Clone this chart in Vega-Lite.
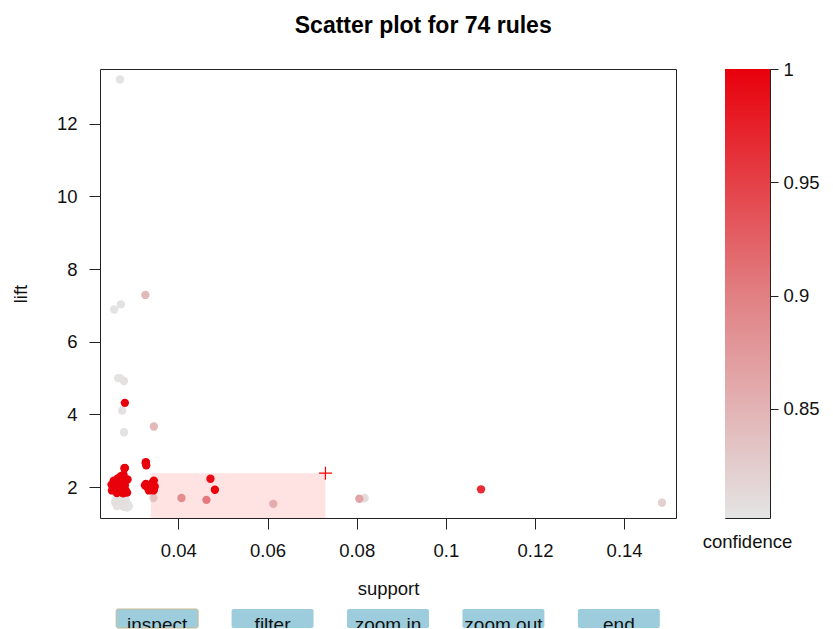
{
  "$schema": "https://vega.github.io/schema/vega-lite/v6.json",
  "padding": {"left": 10, "top": 14, "right": 5, "bottom": 0},
  "background": "white",
  "title": {"text": "Scatter plot for 74 rules", "fontSize": 23, "fontWeight": "bold", "font": "Liberation Sans", "color": "#000", "anchor": "middle", "offset": 22, "dx": 8},
  "config": {
    "font": "Liberation Sans",
    "view": {"stroke": "#222", "strokeWidth": 1},
    "axis": {"grid": false, "domain": false, "tickColor": "#222", "labelColor": "#111", "titleColor": "#111", "labelFontSize": 18.5, "titleFontSize": 18.5, "titleFontWeight": "normal", "labelFont": "Liberation Sans", "titleFont": "Liberation Sans", "labelFlush": false}
  },
  "resolve": {"scale": {"x": "independent", "y": "independent", "color": "independent"}},
  "spacing": 25,
  "hconcat": [
    {
      "spacing": 9,
      "resolve": {"scale": {"x": "independent", "y": "independent"}},
      "vconcat": [
        {
          "width": 576,
          "height": 449,
          "layer": [
            {
              "data": {"values": [
                {"support": 0.0269, "lift": 13.22, "confidence": 0.803},
                {"support": 0.0271, "lift": 7.03, "confidence": 0.805},
                {"support": 0.0256, "lift": 6.89, "confidence": 0.803},
                {"support": 0.0265, "lift": 5.00, "confidence": 0.804},
                {"support": 0.0270, "lift": 5.00, "confidence": 0.804},
                {"support": 0.0278, "lift": 4.92, "confidence": 0.806},
                {"support": 0.0274, "lift": 4.11, "confidence": 0.805},
                {"support": 0.0278, "lift": 3.51, "confidence": 0.803},
                {"support": 0.0818, "lift": 1.70, "confidence": 0.806},
                {"support": 0.0816, "lift": 1.69, "confidence": 0.81},
                {"support": 0.0259, "lift": 1.63, "confidence": 0.805},
                {"support": 0.0264, "lift": 1.56, "confidence": 0.803},
                {"support": 0.0270, "lift": 1.50, "confidence": 0.804},
                {"support": 0.0278, "lift": 1.46, "confidence": 0.806},
                {"support": 0.0285, "lift": 1.44, "confidence": 0.803},
                {"support": 0.0268, "lift": 1.62, "confidence": 0.805},
                {"support": 0.0276, "lift": 1.58, "confidence": 0.807},
                {"support": 0.0287, "lift": 1.52, "confidence": 0.804},
                {"support": 0.0282, "lift": 1.64, "confidence": 0.805},
                {"support": 0.0262, "lift": 1.48, "confidence": 0.804},
                {"support": 0.0273, "lift": 1.55, "confidence": 0.805},
                {"support": 0.0280, "lift": 1.52, "confidence": 0.803},
                {"support": 0.0258, "lift": 1.58, "confidence": 0.806},
                {"support": 0.0289, "lift": 1.47, "confidence": 0.804},
                {"support": 0.0326, "lift": 7.29, "confidence": 0.845},
                {"support": 0.0345, "lift": 3.67, "confidence": 0.845},
                {"support": 0.0344, "lift": 1.70, "confidence": 0.815},
                {"support": 0.0407, "lift": 1.70, "confidence": 0.87},
                {"support": 0.0463, "lift": 1.65, "confidence": 0.89},
                {"support": 0.0613, "lift": 1.54, "confidence": 0.835},
                {"support": 0.0806, "lift": 1.68, "confidence": 0.865},
                {"support": 0.1485, "lift": 1.57, "confidence": 0.82},
                {"support": 0.1079, "lift": 1.94, "confidence": 0.965},
                {"support": 0.0280, "lift": 4.32, "confidence": 1.0},
                {"support": 0.0280, "lift": 2.53, "confidence": 1.0},
                {"support": 0.0279, "lift": 2.52, "confidence": 0.99},
                {"support": 0.0327, "lift": 2.69, "confidence": 1.0},
                {"support": 0.0327, "lift": 2.66, "confidence": 1.0},
                {"support": 0.0328, "lift": 2.60, "confidence": 1.0},
                {"support": 0.0472, "lift": 2.23, "confidence": 0.99},
                {"support": 0.0482, "lift": 1.93, "confidence": 1.0},
                {"support": 0.0271, "lift": 2.30, "confidence": 1.0},
                {"support": 0.0259, "lift": 2.14, "confidence": 1.0},
                {"support": 0.0274, "lift": 2.14, "confidence": 1.0},
                {"support": 0.0256, "lift": 1.96, "confidence": 1.0},
                {"support": 0.0282, "lift": 1.91, "confidence": 1.0},
                {"support": 0.0267, "lift": 2.00, "confidence": 1.0},
                {"support": 0.0280, "lift": 2.05, "confidence": 1.0},
                {"support": 0.0250, "lift": 2.07, "confidence": 1.0},
                {"support": 0.0251, "lift": 1.91, "confidence": 1.0},
                {"support": 0.0286, "lift": 2.21, "confidence": 1.0},
                {"support": 0.0285, "lift": 1.85, "confidence": 1.0},
                {"support": 0.0262, "lift": 1.84, "confidence": 1.0},
                {"support": 0.0276, "lift": 1.83, "confidence": 1.0},
                {"support": 0.0264, "lift": 2.24, "confidence": 1.0},
                {"support": 0.0277, "lift": 2.34, "confidence": 1.0},
                {"support": 0.0266, "lift": 2.10, "confidence": 1.0},
                {"support": 0.0272, "lift": 1.95, "confidence": 1.0},
                {"support": 0.0260, "lift": 2.02, "confidence": 1.0},
                {"support": 0.0279, "lift": 2.12, "confidence": 1.0},
                {"support": 0.0268, "lift": 1.88, "confidence": 1.0},
                {"support": 0.0255, "lift": 2.18, "confidence": 1.0},
                {"support": 0.0345, "lift": 2.18, "confidence": 1.0},
                {"support": 0.0327, "lift": 2.09, "confidence": 1.0},
                {"support": 0.0338, "lift": 2.00, "confidence": 1.0},
                {"support": 0.0344, "lift": 1.91, "confidence": 1.0},
                {"support": 0.0334, "lift": 1.91, "confidence": 1.0},
                {"support": 0.0345, "lift": 1.93, "confidence": 1.0},
                {"support": 0.0325, "lift": 2.05, "confidence": 1.0},
                {"support": 0.0341, "lift": 2.07, "confidence": 1.0},
                {"support": 0.0336, "lift": 1.96, "confidence": 1.0},
                {"support": 0.0342, "lift": 2.12, "confidence": 1.0},
                {"support": 0.0330, "lift": 2.00, "confidence": 1.0},
                {"support": 0.0347, "lift": 2.02, "confidence": 1.0}
              ]},
              "mark": {"type": "circle", "size": 70, "opacity": 1},
              "encoding": {
                "x": {"field": "support", "type": "quantitative", "scale": {"domain": [0.02242, 0.15164], "nice": false, "zero": false},
                      "axis": {"title": "support", "values": [0.04, 0.06, 0.08, 0.1, 0.12, 0.14], "format": "~g", "tickSize": 11, "labelPadding": 12, "titlePadding": 20}},
                "y": {"field": "lift", "type": "quantitative", "scale": {"domain": [1.151, 13.508], "nice": false, "zero": false},
                      "axis": {"title": "lift", "values": [2, 4, 6, 8, 10, 12], "tickSize": 11, "labelPadding": 12, "titlePadding": 26}},
                "color": {"field": "confidence", "type": "quantitative", "scale": {"domain": [0.8018, 1], "range": ["#e4e4e4", "#e17f82", "#e8000b"], "interpolate": "rgb"}, "legend": null},
                "order": {"field": "confidence", "type": "quantitative", "sort": "ascending"}
              }
            },
            {
              "data": {"values": [{"support": 0.0338, "support_end": 0.0730, "lift": 1.151, "lift_end": 2.386}]},
              "mark": {"type": "rect", "fill": "#ff0000", "fillOpacity": 0.11, "clip": true},
              "encoding": {
                "x": {"field": "support", "type": "quantitative"},
                "x2": {"field": "support_end"},
                "y": {"field": "lift", "type": "quantitative"},
                "y2": {"field": "lift_end"}
              }
            },
            {
              "data": {"values": [{"support": 0.0730, "lift": 2.386}]},
              "mark": {"type": "point", "shape": "M-1,0H1M0,-1V1", "size": 169, "stroke": "#ff0000", "strokeWidth": 1.2, "filled": false, "opacity": 1},
              "encoding": {
                "x": {"field": "support", "type": "quantitative"},
                "y": {"field": "lift", "type": "quantitative"}
              }
            }
          ]
        },
        {
          "width": 576,
          "height": 19,
          "view": {"stroke": null},
          "data": {"values": [
            {"label": "inspect", "active": true},
            {"label": "filter", "active": false},
            {"label": "zoom in", "active": false},
            {"label": "zoom out", "active": false},
            {"label": "end", "active": false}
          ]},
          "encoding": {
            "x": {"field": "label", "type": "nominal", "sort": null, "scale": {"paddingInner": 0.29, "paddingOuter": 0.14}, "axis": null}
          },
          "layer": [
            {
              "mark": {"type": "rect", "fill": "#9dcddc", "cornerRadius": 2},
              "encoding": {"stroke": {"condition": {"test": "datum.active", "value": "#cbb98e"}, "value": "transparent"}}
            },
            {
              "mark": {"type": "text", "fontSize": 19, "baseline": "alphabetic", "dy": 12, "clip": true, "color": "#111", "font": "Liberation Sans"},
              "encoding": {"text": {"field": "label"}}
            }
          ]
        }
      ]
    },
    {
      "width": 45,
      "height": 449,
      "data": {"values": [{"lo": 0.8018, "hi": 1}]},
      "mark": {"type": "rect", "fill": {"gradient": "linear", "x1": 0, "y1": 1, "x2": 0, "y2": 0, "stops": [{"offset": 0, "color": "#e4e4e4"}, {"offset": 0.5, "color": "#e17f82"}, {"offset": 1, "color": "#e8000b"}]}},
      "encoding": {
        "y": {"field": "lo", "type": "quantitative", "scale": {"domain": [0.8018, 1], "nice": false, "zero": false},
              "axis": {"orient": "right", "title": null, "values": [0.85, 0.9, 0.95, 1], "format": "~g", "tickSize": 8, "labelPadding": 5}},
        "y2": {"field": "hi"}
      },
      "title": {"text": "confidence", "orient": "bottom", "anchor": "middle", "fontSize": 18.5, "fontWeight": "normal", "offset": 15, "frame": "group", "color": "#111"}
    }
  ]
}
